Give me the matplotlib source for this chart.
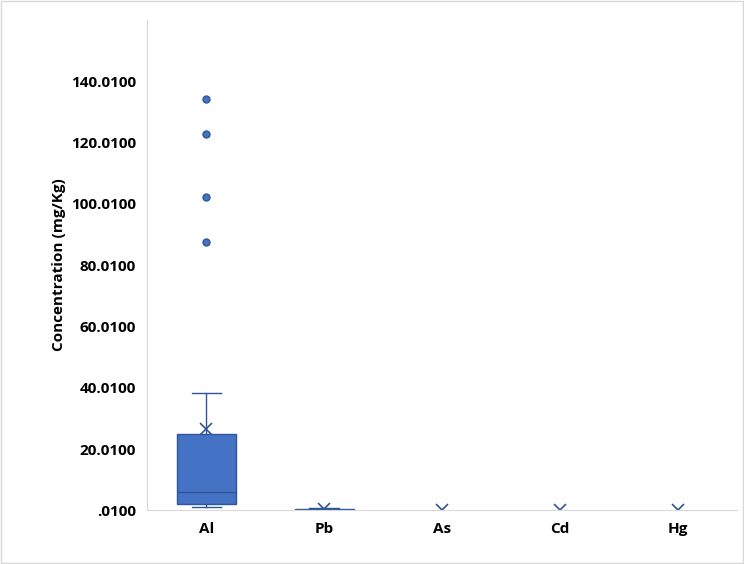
import matplotlib.pyplot as plt
from matplotlib.patches import Rectangle

metals = ['Al', 'Pb', 'As', 'Cd', 'Hg']
whislo = [1.0, 0.05, 0.01, 0.01, 0.01]
q1 = [2.0, 0.1, 0.01, 0.01, 0.01]
med = [5.9, 0.3, 0.01, 0.01, 0.01]
q3 = [24.8, 0.5, 0.01, 0.01, 0.01]
whishi = [38.3, 0.8, 0.01, 0.01, 0.01]
means = [26.7, 0.6, 0.01, 0.01, 0.01]
fliers = [[87.5, 102.2, 122.7, 134.1], [], [], [], []]
yticks = [0.01, 20.01, 40.01, 60.01, 80.01, 100.01, 120.01, 140.01]

blue = '#4472C4'
edge = '#2F5597'

stats = []
for i, m in enumerate(metals):
    stats.append(dict(label=m, whislo=whislo[i], q1=q1[i], med=med[i], q3=q3[i],
                      whishi=whishi[i], mean=means[i], fliers=fliers[i]))

# boxes with no spread show only the mean marker
widths = [0.5 if q3[i] > q1[i] else 0.001 for i in range(len(metals))]

fig = plt.figure(figsize=(7.44, 5.64), dpi=100)
ax = fig.add_axes([0.198, 0.095, 0.792, 0.87])
ax.bxp(stats, widths=widths, showmeans=True, patch_artist=True,
       boxprops=dict(facecolor=blue, edgecolor=edge, linewidth=1),
       medianprops=dict(color=edge, linewidth=1),
       whiskerprops=dict(color=edge, linewidth=1),
       capprops=dict(color=edge, linewidth=1),
       capwidths=[0.25 if w > 0.01 else 0.001 for w in widths],
       meanprops=dict(marker='x', markeredgecolor=edge, markersize=8, markeredgewidth=1.2),
       flierprops=dict(marker='o', markerfacecolor=blue, markeredgecolor=edge, markersize=5))

ax.set_ylim(0.01, 160)
ax.set_xlim(0.5, 5.5)
ax.set_yticks(yticks)
ax.set_yticklabels(['.0100'] + ['%.4f' % v for v in yticks[1:]])
ax.set_ylabel('Concentration (mg/Kg)', fontsize=11, fontweight='bold', family='Open Sans')
for lab in ax.get_xticklabels() + ax.get_yticklabels():
    lab.set_fontweight('bold')
    lab.set_fontsize(11)
    lab.set_family('Open Sans')
ax.tick_params(length=0, pad=8)
for s in ['top', 'right']:
    ax.spines[s].set_visible(False)
ax.spines['left'].set_color('#D9D9D9')
ax.spines['bottom'].set_color('#D9D9D9')

fig.patches.append(Rectangle((0.002, 0.002), 0.996, 0.996, transform=fig.transFigure,
                             fill=False, edgecolor='#D9D9D9', linewidth=1))
fig.savefig('out.png')
